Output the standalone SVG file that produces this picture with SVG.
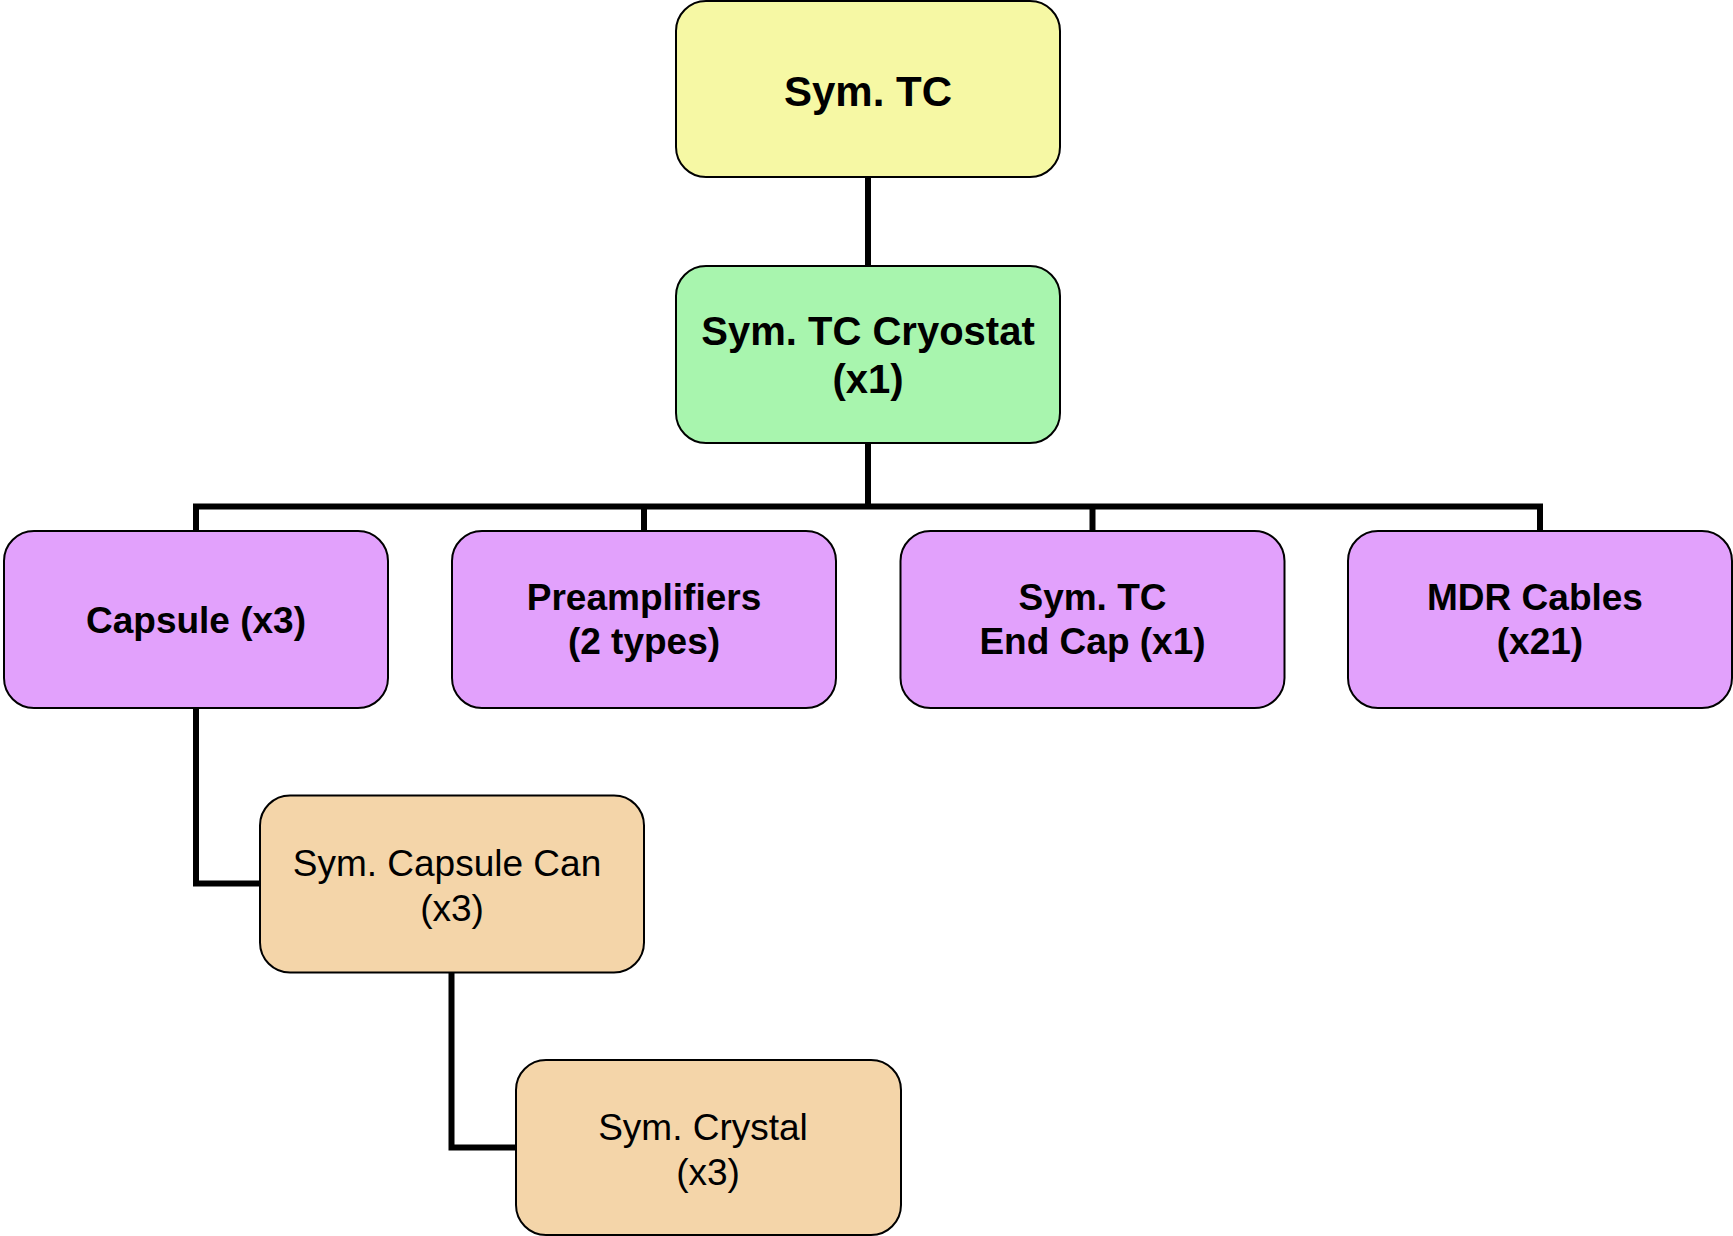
<svg xmlns="http://www.w3.org/2000/svg" width="1733" height="1236" viewBox="0 0 1733 1236">
<style>
.box{stroke:#000;stroke-width:2}
.y{fill:#F6F8A4}
.g{fill:#A8F5AE}
.p{fill:#E2A1FC}
.t{fill:#F4D5A9}
.lbl{font-family:"Liberation Sans",Arial,sans-serif;text-anchor:middle;fill:#000}
.b{font-weight:bold}
.conn{fill:none;stroke:#000;stroke-width:6;stroke-linejoin:miter;stroke-linecap:butt}
</style>
<rect width="1733" height="1236" fill="#fff"/>
<g id="connectors">
<path class="conn" d="M868 177V266"/>
<path class="conn" d="M868 443V506.5"/>
<path class="conn" d="M196 531V506.5H1540V531"/>
<path class="conn" d="M644 506.5V531"/>
<path class="conn" d="M1092.5 506.5V531"/>
<path class="conn" d="M196 708V883.5H260"/>
<path class="conn" d="M451.5 972V1147.5H516"/>
</g>
<g id="n-symtc">
<rect class="box y" x="676" y="1" width="384" height="176" rx="30"/>
<text class="lbl b" x="868" y="106" font-size="42">Sym. TC</text>
</g>
<g id="n-cryostat">
<rect class="box g" x="676" y="266" width="384" height="177" rx="30"/>
<text class="lbl b" x="868" y="345" font-size="40">Sym. TC Cryostat</text>
<text class="lbl b" x="868" y="393" font-size="40">(x1)</text>
</g>
<g id="n-capsule">
<rect class="box p" x="4" y="531" width="384" height="177" rx="30"/>
<text class="lbl b" x="196" y="633" font-size="37">Capsule (x3)</text>
</g>
<g id="n-preamp">
<rect class="box p" x="452" y="531" width="384" height="177" rx="30"/>
<text class="lbl b" x="644" y="610" font-size="37">Preamplifiers</text>
<text class="lbl b" x="644" y="654" font-size="37">(2 types)</text>
</g>
<g id="n-endcap">
<rect class="box p" x="900.5" y="531" width="384" height="177" rx="30"/>
<text class="lbl b" x="1092.5" y="610" font-size="37">Sym. TC</text>
<text class="lbl b" x="1092.5" y="654" font-size="37">End Cap (x1)</text>
</g>
<g id="n-mdr">
<rect class="box p" x="1348" y="531" width="384" height="177" rx="30"/>
<text class="lbl b" x="1535" y="610" font-size="37">MDR Cables</text>
<text class="lbl b" x="1540" y="654" font-size="37">(x21)</text>
</g>
<g id="n-can">
<rect class="box t" x="260" y="795.5" width="384" height="177" rx="30"/>
<text class="lbl" x="447" y="876" font-size="37">Sym. Capsule Can</text>
<text class="lbl" x="452" y="921" font-size="37">(x3)</text>
</g>
<g id="n-crystal">
<rect class="box t" x="516" y="1060" width="385" height="175" rx="30"/>
<text class="lbl" x="703" y="1140" font-size="37">Sym. Crystal</text>
<text class="lbl" x="708" y="1185" font-size="37">(x3)</text>
</g>
</svg>
